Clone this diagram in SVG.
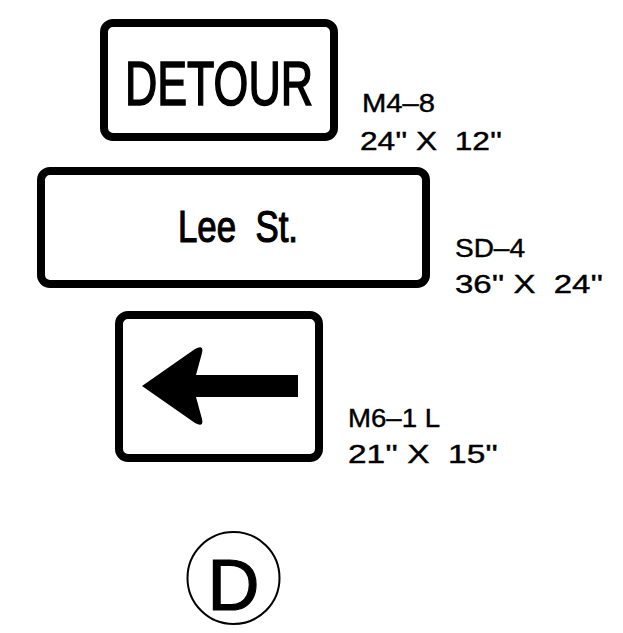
<svg xmlns="http://www.w3.org/2000/svg" width="623" height="633" viewBox="0 0 623 633">
<style>
.sign{fill:#fff;stroke:#000;stroke-width:8}
.t{font-family:"Liberation Sans",Arial,sans-serif;fill:#000;stroke:#000;stroke-width:1.2}
.lbl{font-family:"Liberation Sans",Arial,sans-serif;font-size:25px;fill:#000;stroke:#000;stroke-width:0.4}
</style>
<rect width="623" height="633" fill="#fff"/>
<g id="detour-sign">
<rect class="sign" x="104" y="23" width="230" height="114" rx="9"/>
<text class="t" transform="translate(125,105) scale(1,1.38)" x="0" y="0" font-size="45" textLength="188" lengthAdjust="spacingAndGlyphs">DETOUR</text>
</g>
<g id="detour-label">
<text class="lbl" x="362" y="112" textLength="73" lengthAdjust="spacingAndGlyphs">M4–8</text>
<text class="lbl" x="360" y="150" textLength="142" lengthAdjust="spacingAndGlyphs" xml:space="preserve">24'' X  12''</text>
</g>
<g id="street-sign">
<rect class="sign" x="41" y="171" width="385" height="113" rx="9"/>
<text class="t" x="178" y="242" font-size="44" textLength="120" lengthAdjust="spacingAndGlyphs" xml:space="preserve">Lee  St.</text>
</g>
<g id="street-label">
<text class="lbl" x="455" y="257" textLength="70" lengthAdjust="spacingAndGlyphs">SD–4</text>
<text class="lbl" x="455" y="293" textLength="148" lengthAdjust="spacingAndGlyphs" xml:space="preserve">36'' X  24''</text>
</g>
<g id="arrow-sign">
<rect class="sign" x="119" y="315" width="200" height="143" rx="9"/>
<path d="M142,386 L195,349 Q204,344 202,353 L196,375 L298,375 L298,397 L196,397 L202,419 Q204,428 195,423 Z" fill="#000"/>
</g>
<g id="arrow-label">
<text class="lbl" x="348" y="427" textLength="92" lengthAdjust="spacingAndGlyphs" xml:space="preserve">M6–1 L</text>
<text class="lbl" x="348" y="463" textLength="150" lengthAdjust="spacingAndGlyphs" xml:space="preserve">21'' X  15''</text>
</g>
<g id="detour-marker">
<circle cx="233.5" cy="578" r="46" fill="none" stroke="#000" stroke-width="2"/>
<text class="t" x="233.5" y="610" font-size="72" text-anchor="middle">D</text>
</g>
</svg>
